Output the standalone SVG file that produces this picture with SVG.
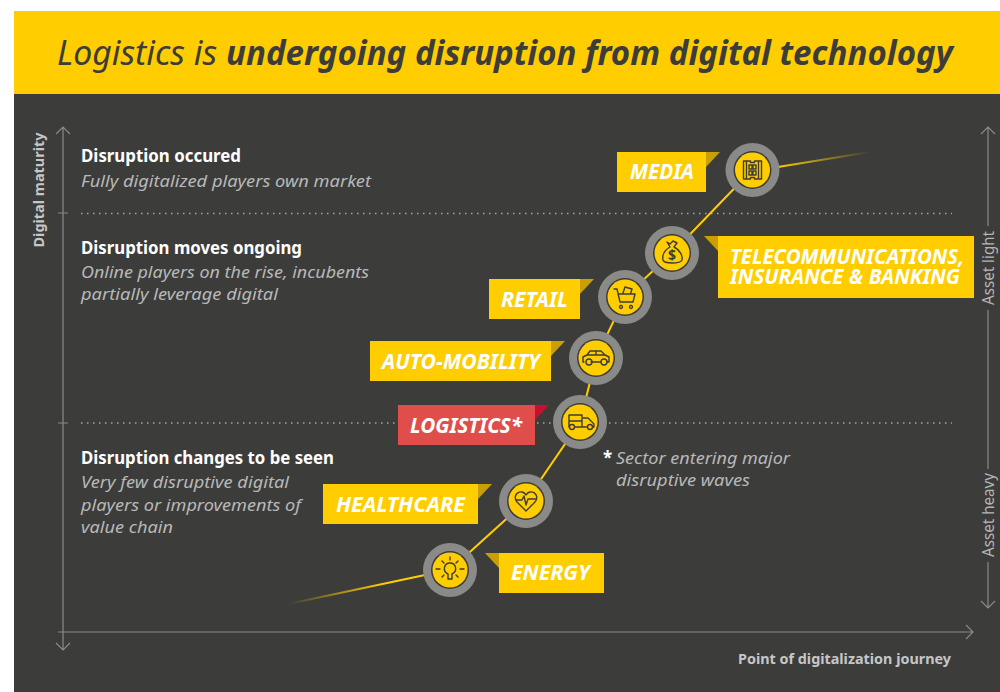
<svg xmlns="http://www.w3.org/2000/svg" width="1000" height="692" viewBox="0 0 1000 692">
<defs>
<linearGradient id="tailR" gradientUnits="userSpaceOnUse" x1="778" y1="167" x2="870" y2="152"><stop offset="0" stop-color="#ffcd00"/><stop offset="1" stop-color="#ffcd00" stop-opacity="0"/></linearGradient>
<linearGradient id="tailL" gradientUnits="userSpaceOnUse" x1="425" y1="575" x2="288" y2="604"><stop offset="0" stop-color="#ffcd00"/><stop offset="0.3" stop-color="#ffcd00"/><stop offset="1" stop-color="#ffcd00" stop-opacity="0"/></linearGradient>
</defs>
<style>
text{font-family:"Noto Sans","Open Sans","Liberation Sans",sans-serif}
.ax{fill:none;stroke:#8a8a8a;stroke-width:1.2}
.dot{fill:none;stroke:#a8a8a8;stroke-width:1.5;stroke-dasharray:1.5 4.5}
.cv{fill:none;stroke:#ffcd00;stroke-width:2}
.o{fill:#8a8a89}
.d{fill:#3c3c3b}
.y{fill:#ffcd00}
.ic{fill:none;stroke:#3c3c3b;stroke-width:1.4;stroke-linejoin:round;stroke-linecap:round}
.h{font-size:17px;font-weight:700;fill:#fff}
.s{font-size:17px;font-style:italic;fill:#b8b8b8}
.lb{font-size:21px;font-weight:700;font-style:italic;fill:#fff}
.axl{font-size:15px;font-weight:700;fill:#c6c6c6}
.axr{font-size:16px;fill:#b4b4b4}
.fold{fill:#c99f05}
</style>
<rect width="1000" height="692" fill="#fff"/>
<rect x="14" y="94" width="986" height="598" fill="#3c3c3b"/>
<g id="header"><rect x="14" y="11" width="986" height="83" fill="#ffcd00"/>
<text x="57" y="65" font-size="34" font-style="italic" fill="#3c3c3b" textLength="160" lengthAdjust="spacingAndGlyphs">Logistics is</text>
<text x="226" y="65" font-size="34" font-style="italic" font-weight="700" fill="#3c3c3b" textLength="727" lengthAdjust="spacingAndGlyphs">undergoing disruption from digital technology</text></g>
<g id="axes">
<path class="ax" d="M63 127V650M56 134L63 127L70 134M56 643L63 650L70 643M58 213H68M58 423H68M58 632H973M966 625L973 632L966 639"/>
<path class="ax" d="M988 127V226M988 310V469M988 562V608M981 134L988 127L995 134M981 601L988 608L995 601"/>
<path class="dot" d="M81 213.5H952M81 423H952"/>
<text class="axl" transform="translate(44 190) rotate(-90)" text-anchor="middle" textLength="115" lengthAdjust="spacingAndGlyphs">Digital maturity</text>
<text class="axr" transform="translate(994 268) rotate(-90)" text-anchor="middle" textLength="74" lengthAdjust="spacingAndGlyphs">Asset light</text>
<text class="axr" transform="translate(994 515) rotate(-90)" text-anchor="middle" textLength="84" lengthAdjust="spacingAndGlyphs">Asset heavy</text>
<text class="axl" x="738" y="664" textLength="213" lengthAdjust="spacingAndGlyphs">Point of digitalization journey</text>
</g>
<g id="zone-texts">
<text class="h" x="81" y="162" textLength="160" lengthAdjust="spacingAndGlyphs">Disruption occured</text>
<text class="s" x="81" y="187" textLength="290" lengthAdjust="spacingAndGlyphs">Fully digitalized players own market</text>
<text class="h" x="81" y="254" textLength="221" lengthAdjust="spacingAndGlyphs">Disruption moves ongoing</text>
<text class="s" x="81" y="278" textLength="288" lengthAdjust="spacingAndGlyphs">Online players on the rise, incubents</text>
<text class="s" x="81" y="300" textLength="197" lengthAdjust="spacingAndGlyphs">partially leverage digital</text>
<text class="h" x="81" y="464" textLength="253" lengthAdjust="spacingAndGlyphs">Disruption changes to be seen</text>
<text class="s" x="81" y="488" textLength="208" lengthAdjust="spacingAndGlyphs">Very few disruptive digital</text>
<text class="s" x="81" y="511" textLength="220" lengthAdjust="spacingAndGlyphs">players or improvements of</text>
<text class="s" x="81" y="533" textLength="92" lengthAdjust="spacingAndGlyphs">value chain</text>
<text class="h" x="603" y="464">*</text>
<text class="s" x="616" y="464" textLength="174" lengthAdjust="spacingAndGlyphs">Sector entering major</text>
<text class="s" x="616" y="486" textLength="134" lengthAdjust="spacingAndGlyphs">disruptive waves</text>
</g>
<g id="connectors">
<path class="cv" d="M450 570L526 501L580 422L596 358L625 297L672 253L752 170"/>
<path fill="none" stroke="url(#tailR)" stroke-width="2" d="M778 167L870 152"/>
<path fill="none" stroke="url(#tailL)" stroke-width="2" d="M425 575L288 604"/>
</g>
<g id="media"><path class="fold" d="M706 152H720L706 167Z"/><rect class="y" x="617" y="152" width="89" height="40"/><text class="lb" x="630" y="179" textLength="64" lengthAdjust="spacingAndGlyphs">MEDIA</text>
<circle class="o" cx="752.500" cy="170" r="27"/><circle class="d" cx="752.500" cy="170" r="19"/><circle class="y" cx="752.500" cy="170" r="17.500"/>
<path class="ic" d="M743.500 161H750.500V162.500H754.500V161H761.500V179H754.500V177.500H750.500V179H743.500ZM746.500 161V179M758.500 161V179M749 165H752V169H749ZM753 165H756V169H753ZM749 171H752V175H749ZM753 171H756V175H753Z"/></g>
<g id="telecom"><path class="fold" d="M718 236H704L718 251Z"/><rect class="y" x="718" y="236" width="256" height="62"/><text class="lb" y="264"><tspan x="730" textLength="234" lengthAdjust="spacingAndGlyphs">TELECOMMUNICATIONS,</tspan><tspan x="730" y="284" textLength="230" lengthAdjust="spacingAndGlyphs">INSURANCE &amp; BANKING</tspan></text>
<circle class="o" cx="672" cy="253" r="27"/><circle class="d" cx="672" cy="253" r="19"/><circle class="y" cx="672" cy="253" r="17.500"/>
<path class="ic" d="M667 242L670 244L673 241L677 243L674 247C680 250 683 256 682 260C680 264 664 264 663 260C662 255 665 250 670 247Z"/><text x="672" y="260" font-size="14" font-weight="700" fill="#3c3c3b" text-anchor="middle">$</text></g>
<g id="retail"><path class="fold" d="M580 279H594L580 294Z"/><rect class="y" x="489" y="279" width="91" height="40"/><text class="lb" x="501" y="307" textLength="67" lengthAdjust="spacingAndGlyphs">RETAIL</text>
<circle class="o" cx="625" cy="297" r="27"/><circle class="d" cx="625" cy="297" r="19"/><circle class="y" cx="625" cy="297" r="17.500"/>
<path class="ic" d="M614 289H617L620 302H633L635 294H618M621 305.500A1.500 1.500 0 1 0 621.010 305.500M631 305.500A1.500 1.500 0 1 0 631.010 305.500M623 293L625 287L632 289L630.500 294"/></g>
<g id="auto-mobility"><path class="fold" d="M551 341H565L551 356Z"/><rect class="y" x="370" y="341" width="181" height="40"/><text class="lb" x="382" y="369" textLength="158" lengthAdjust="spacingAndGlyphs">AUTO-MOBILITY</text>
<circle class="o" cx="596" cy="358" r="27"/><circle class="d" cx="596" cy="358" r="19"/><circle class="y" cx="596" cy="358" r="17.500"/>
<path class="ic" d="M584 362H583V357L587 355L590 351H601L605 355L609 357V362H607M601 362H591M587 355H605M596 351V355"/><circle class="ic" cx="589" cy="362" r="3"/><circle class="ic" cx="604" cy="362" r="3"/></g>
<g id="logistics"><path d="M535 405H549L535 420Z" fill="#c8102e"/><rect x="398" y="405" width="137" height="40" fill="#e04e4b"/><text class="lb" x="410" y="433" textLength="112" lengthAdjust="spacingAndGlyphs">LOGISTICS*</text>
<circle class="o" cx="580" cy="422" r="27"/><circle class="d" cx="580" cy="422" r="19"/><circle class="y" cx="580" cy="422" r="17.500"/>
<path class="ic" d="M569 427H569V415H582V427H575M582 418H588L594 424V427H593M587 427H582M569 421H582"/><circle class="ic" cx="572" cy="427" r="2.500"/><circle class="ic" cx="590" cy="427" r="2.500"/></g>
<g id="healthcare"><path class="fold" d="M478 484H492L478 499Z"/><rect class="y" x="323" y="484" width="155" height="40"/><text class="lb" x="336" y="512" textLength="129" lengthAdjust="spacingAndGlyphs">HEALTHCARE</text>
<circle class="o" cx="526" cy="501" r="27"/><circle class="d" cx="526" cy="501" r="19"/><circle class="y" cx="526" cy="501" r="17.500"/>
<path class="ic" d="M526 511L517 502C511 494 522 488 526 495C530 488 541 494 535 502ZM516 500H522L524 496L526 505L528 499H536"/></g>
<g id="energy"><path class="fold" d="M499 553H485L499 568Z"/><rect class="y" x="499" y="553" width="105" height="40"/><text class="lb" x="511" y="580" textLength="79" lengthAdjust="spacingAndGlyphs">ENERGY</text>
<circle class="o" cx="450" cy="570" r="27"/><circle class="d" cx="450" cy="570" r="19"/><circle class="y" cx="450" cy="570" r="17.500"/>
<path class="ic" d="M448 574V579H452V574C458 571 456 563 450 563C444 563 442 571 448 574ZM450 557V560M440 569H436M464 569H460M442 561L444 563M458 561L456 563M442 577L444 575M458 577L456 575"/></g>
</svg>
